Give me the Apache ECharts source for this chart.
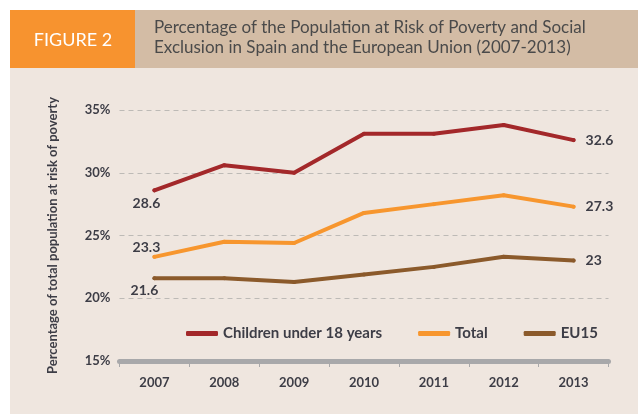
<!DOCTYPE html>
<html>
<head>
<meta charset="utf-8">
<script src="https://cdn.jsdelivr.net/npm/echarts@6/dist/echarts.min.js"></script>
<style>
  html, body { margin: 0; padding: 0; background: #fff; }
  #chart { width: 638px; height: 414px; }
</style>
</head>
<body>
<div id="chart"></div>
<script>
const years = ["2007", "2008", "2009", "2010", "2011", "2012", "2013"];
const children = [28.6, 30.6, 30.0, 33.1, 33.1, 33.8, 32.6];
const total = [23.3, 24.5, 24.4, 26.8, 27.5, 28.2, 27.3];
const eu15 = [21.6, 21.6, 21.3, 21.9, 22.5, 23.3, 23];
const yTicks = [15, 20, 25, 30, 35];

const textDark = "#3d3d46";
const boldFont = "Lato, 'Open Sans', sans-serif";

// first and last point get a label, the rest none
function withEndLabels(values, firstLabel) {
  return values.map((v, i) => {
    if (i === 0) return { value: v, label: Object.assign({ show: true }, firstLabel) };
    if (i === values.length - 1) return { value: v, label: { show: true, position: "right", distance: 10 } };
    return v;
  });
}

function lineSeries(name, values, color, firstLabel) {
  return {
    name: name,
    type: "line",
    data: withEndLabels(values, firstLabel),
    symbol: "circle",
    symbolSize: 4,
    itemStyle: { color: color },
    lineStyle: { color: color, width: 4, cap: "round", join: "round" },
    label: {
      show: false,
      color: textDark,
      fontFamily: boldFont,
      fontWeight: "bold",
      fontSize: 14,
    },
    emphasis: { disabled: true },
    z: 3,
  };
}

const myChart = echarts.init(document.getElementById("chart"));
const option = {
  backgroundColor: "#ffffff",
  animation: false,
  graphic: [
    { type: "rect", z: -10, shape: { x: 10, y: 68, width: 628, height: 346 }, style: { fill: "#efe6df" } },
    { type: "rect", z: -10, shape: { x: 135, y: 10, width: 503, height: 58 }, style: { fill: "#d3bca5" } },
    { type: "rect", z: -10, shape: { x: 10, y: 10, width: 125, height: 58 }, style: { fill: "#f7932f" } },
    {
      type: "text", x: 73, y: 40,
      style: {
        text: "FIGURE 2", fill: "#ffffff", fontSize: 18,
        fontFamily: "Lato, sans-serif",
        align: "center", verticalAlign: "middle",
      },
    },
    {
      type: "text", x: 154, y: 38,
      style: {
        text: "Percentage of the Population at Risk of Poverty and Social\nExclusion in Spain and the European Union (2007-2013)",
        fill: "#4a4a4a", fontSize: 17, lineHeight: 20,
        fontFamily: "Lato, sans-serif",
        align: "left", verticalAlign: "middle",
      },
    },
  ],
  grid: { left: 119.5, right: 29.5, top: 110, bottom: 53 },
  legend: {
    left: 186,
    top: 326,
    padding: 0,
    icon: "roundRect",
    itemWidth: 32,
    itemHeight: 5,
    itemGap: 36,
    textStyle: { color: textDark, fontFamily: boldFont, fontWeight: "bold", fontSize: 15 },
    data: ["Children under 18 years", "Total", "EU15"],
  },
  xAxis: {
    type: "category",
    data: years,
    boundaryGap: true,
    axisLine: { lineStyle: { color: "#a8a8aa", width: 5 } },
    axisTick: { show: true, length: 6, lineStyle: { color: "#a8a8aa", width: 1 } },
    axisLabel: { margin: 15, color: textDark, fontFamily: boldFont, fontWeight: "bold", fontSize: 13 },
  },
  yAxis: {
    type: "value",
    min: yTicks[0],
    max: yTicks[yTicks.length - 1],
    interval: 5,
    name: "Percentage of total population at risk of poverty",
    nameLocation: "middle",
    nameGap: 60,
    nameTextStyle: { color: textDark, fontFamily: boldFont, fontWeight: "bold", fontSize: 13 },
    axisLine: { show: false },
    axisTick: { show: false },
    axisLabel: { margin: 9, formatter: "{value}%", color: textDark, fontFamily: boldFont, fontWeight: "bold", fontSize: 13 },
    splitLine: { show: true, lineStyle: { type: [5, 4], color: "#bdbab6", width: 1 } },
  },
  series: [
    lineSeries("Children under 18 years", children, "#a3282a", { position: "bottom", offset: [-8, -1] }),
    lineSeries("Total", total, "#f7962e", { position: "top", offset: [-8, 5] }),
    lineSeries("EU15", eu15, "#8b5a2b", { position: "bottom", offset: [-10, -2] }),
  ],
};
myChart.setOption(option);
</script>
</body>
</html>
